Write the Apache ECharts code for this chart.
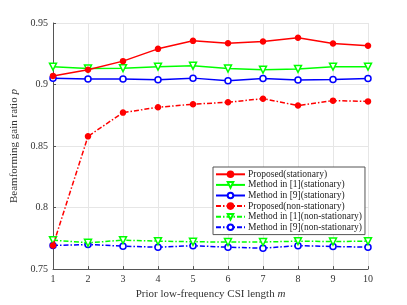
<!DOCTYPE html>
<html><head><meta charset="utf-8">
<script src="https://cdn.jsdelivr.net/npm/echarts@6/dist/echarts.min.js"></script>
<style>html,body{margin:0;padding:0;background:#fff}#c{width:407px;height:305px}</style>
</head><body><div id="c"></div>
<script>
var categories = [1,2,3,4,5,6,7,8,9,10];
var yTicks = [0.75,0.8,0.85,0.9,0.95];
var propStat = [0.907,0.912,0.919,0.929,0.9355,0.9335,0.935,0.938,0.9334,0.9315];
var m1Stat = [0.9145,0.913,0.9133,0.9145,0.9153,0.913,0.9121,0.9127,0.9145,0.9145];
var m9Stat = [0.9052,0.9044,0.9044,0.9038,0.9052,0.903,0.9049,0.9036,0.9041,0.9049];
var propNon = [0.7692,0.8579,0.8772,0.8815,0.884,0.8856,0.8885,0.8829,0.8869,0.8863];
var m1Non = [0.7735,0.7714,0.7735,0.7727,0.7722,0.772,0.772,0.7727,0.7724,0.7727];
var m9Non = [0.7692,0.7700,0.7686,0.7678,0.769,0.7678,0.767,0.769,0.7684,0.7678];
var names = ['Proposed(stationary)','Method in [1](stationary)','Method in [9](stationary)','Proposed(non-stationary)','Method in [1](non-stationary)','Method in [9](non-stationary)'];

var FONT = 'Liberation Serif';
function pts(arr){ return categories.map(function(c,i){return [c,arr[i]];}); }
function mk(name, data, color, symbol, size, dashed, filled, z){
  return {
    name: name, type:'line', data: pts(data), z: z,
    symbol: symbol, symbolSize: size, showSymbol:true,
    lineStyle:{color:color, width:1.5, type: dashed ? [5,2,1.5,2] : 'solid'},
    itemStyle:{color: filled ? color : '#fff', borderColor:color, borderWidth:1.5},
    emphasis:{disabled:true}, animation:false
  };
}
var triDown = 'path://M0,0 L10,0 L5,8.7 Z';
var chart = echarts.init(document.getElementById('c'), null, {renderer:'canvas'});
chart.setOption({
  animation:false,
  textStyle:{fontFamily:FONT},
  grid:{left:53, right:39, top:23, bottom:34, containLabel:false},
  legend:{
    orient:'vertical', left:213, top:167, itemGap:0, itemWidth:29, itemHeight:7,
    backgroundColor:'#fff', borderColor:'#555', borderWidth:1, padding:[2,3,2,2],
    textStyle:{fontFamily:FONT, fontSize:9.5, lineHeight:10.6, color:'#222', padding:[0,0,0,-2]},
    data: names
  },
  xAxis:{
    type:'value', min:1, max:10, interval:1,
    name:'{a|Prior low-frequency CSI length }{b|m}', nameLocation:'middle', nameGap:15,
    nameTextStyle:{fontFamily:FONT, fontSize:11, color:'#333',
      rich:{a:{fontFamily:FONT, fontSize:11, color:'#333'}, b:{fontFamily:FONT, fontSize:11, color:'#333', fontStyle:'italic'}}},
    axisLine:{show:true, lineStyle:{color:'#555', width:1}},
    axisTick:{show:true, inside:true, length:3, lineStyle:{color:'#555'}},
    axisLabel:{fontFamily:FONT, fontSize:10, color:'#333', margin:5},
    splitLine:{show:true, lineStyle:{color:'#e6e6e6', width:1}}
  },
  yAxis:{
    type:'value', min:0.75, max:0.95, interval:0.05,
    name:'{a|Beamforming gain ratio }{b|p}', nameLocation:'middle', nameGap:24,
    nameTextStyle:{fontFamily:FONT, fontSize:11, color:'#333',
      rich:{a:{fontFamily:FONT, fontSize:11, color:'#333'}, b:{fontFamily:FONT, fontSize:11, color:'#333', fontStyle:'italic'}}},
    axisLine:{show:true, lineStyle:{color:'#555', width:1}},
    axisTick:{show:true, inside:true, length:3, lineStyle:{color:'#555'}},
    axisLabel:{fontFamily:FONT, fontSize:10, color:'#333', margin:5,
      formatter:function(v){ return String(Math.round(v*100)/100); }},
    splitLine:{show:true, lineStyle:{color:'#e6e6e6', width:1}}
  },
  series:[
    mk(names[0], propStat, '#ff0000', 'circle', 5, false, true, 5),
    mk(names[1], m1Stat, '#00ff00', triDown, 7, false, false, 4),
    mk(names[2], m9Stat, '#0000ff', 'circle', 6, false, false, 3),
    mk(names[3], propNon, '#ff0000', 'circle', 5, true, true, 5),
    mk(names[4], m1Non, '#00ff00', triDown, 7, true, false, 4),
    mk(names[5], m9Non, '#0000ff', 'circle', 6, true, false, 3)
  ]
});
</script></body></html>
